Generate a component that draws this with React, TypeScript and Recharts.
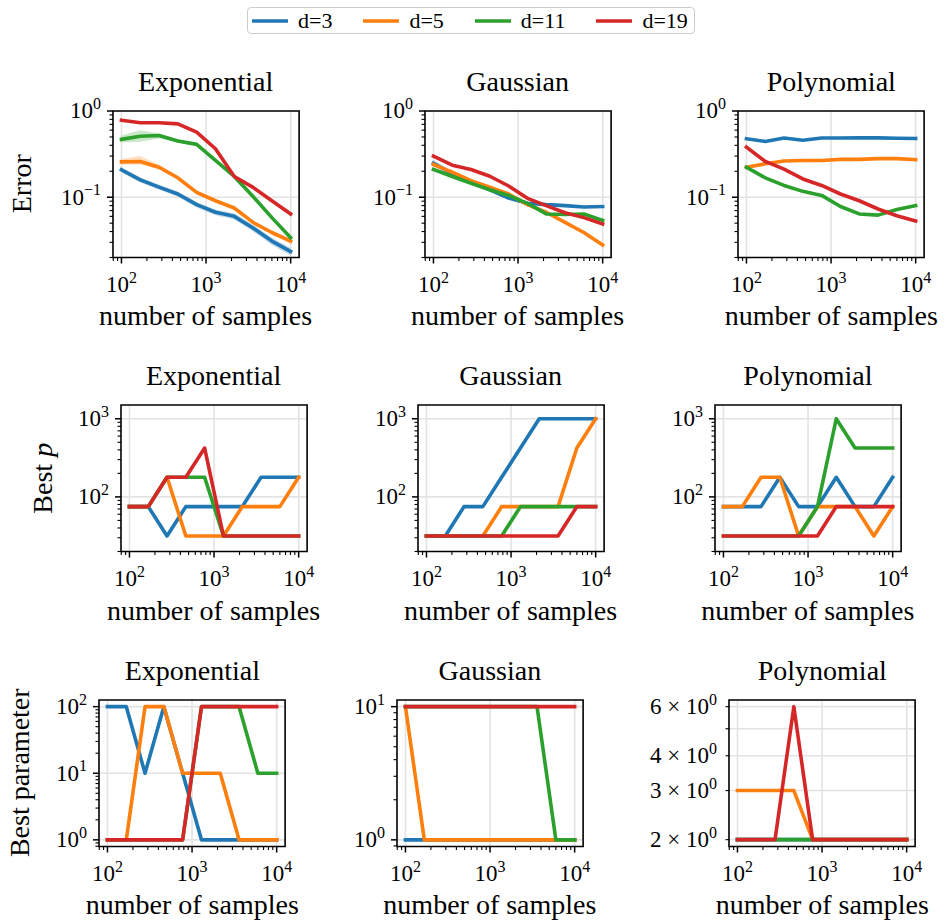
import React from 'react'
import {
  ComposedChart,
  Line,
  Area,
  XAxis,
  YAxis,
  CartesianGrid,
  ReferenceArea,
} from 'recharts'

// sample sizes (log-spaced 1e2 .. 1e4)
const samples = [100, 167, 278, 464, 774, 1292, 2154, 3594, 5995, 10000]
const dims = ['d=3', 'd=5', 'd=11', 'd=19']
const colors = ['#1f77b4', '#ff7f0e', '#2ca02c', '#d62728']
const kernels = ['Exponential', 'Gaussian', 'Polynomial']

// row 1: Error
const errExponential = [
  [0.208, 0.159, 0.131, 0.109, 0.082, 0.067, 0.06, 0.044, 0.031, 0.0235],
  [0.257, 0.26, 0.223, 0.168, 0.114, 0.091, 0.075, 0.051, 0.039, 0.031],
  [0.469, 0.51, 0.52, 0.448, 0.41, 0.267, 0.174, 0.102, 0.058, 0.034],
  [0.78, 0.73, 0.73, 0.71, 0.57, 0.365, 0.174, 0.13, 0.091, 0.064],
]
const errExponentialLo = [
  [0.194, 0.148, 0.122, 0.101, 0.076, 0.062, 0.055, 0.04, 0.028, 0.021],
  [0.24, 0.24, 0.21, 0.16, 0.109, 0.087, 0.072, 0.049, 0.037, 0.029],
  [0.43, 0.44, 0.48, 0.43, 0.4, 0.26, 0.168, 0.099, 0.056, 0.033],
]
const errExponentialHi = [
  [0.222, 0.17, 0.14, 0.116, 0.088, 0.072, 0.065, 0.048, 0.034, 0.026],
  [0.28, 0.3, 0.24, 0.176, 0.119, 0.095, 0.078, 0.053, 0.041, 0.033],
  [0.52, 0.6, 0.55, 0.47, 0.43, 0.275, 0.18, 0.105, 0.06, 0.035],
]
const errGaussian = [
  [0.248, 0.187, 0.149, 0.122, 0.098, 0.085, 0.082, 0.08, 0.077, 0.078],
  [0.24, 0.195, 0.156, 0.131, 0.109, 0.082, 0.067, 0.051, 0.039, 0.028],
  [0.21, 0.174, 0.145, 0.122, 0.105, 0.085, 0.064, 0.063, 0.064, 0.054],
  [0.3, 0.235, 0.21, 0.175, 0.135, 0.097, 0.08, 0.066, 0.058, 0.049],
]
const errGaussianLo = [[0.23, 0.175, 0.142, 0.117, 0.095, 0.083, 0.08, 0.078, 0.075, 0.076]]
const errGaussianHi = [[0.27, 0.2, 0.157, 0.127, 0.101, 0.087, 0.084, 0.082, 0.079, 0.08]]
const errPolynomial = [
  [0.477, 0.444, 0.486, 0.458, 0.486, 0.486, 0.49, 0.488, 0.484, 0.48],
  [0.223, 0.244, 0.263, 0.267, 0.267, 0.275, 0.275, 0.28, 0.28, 0.273],
  [0.223, 0.168, 0.137, 0.117, 0.105, 0.078, 0.064, 0.062, 0.072, 0.08],
  [0.381, 0.26, 0.212, 0.163, 0.137, 0.109, 0.091, 0.073, 0.061, 0.053],
]

// row 2: Best p
const bestPExponential = [
  [75, 75, 31.6, 75, 75, 75, 75, 178, 178, 178],
  [75, 75, 178, 31.6, 31.6, 31.6, 75, 75, 75, 178],
  [75, 75, 178, 178, 178, 31.6, 31.6, 31.6, 31.6, 31.6],
  [75, 75, 178, 178, 422, 31.6, 31.6, 31.6, 31.6, 31.6],
]
const bestPGaussian = [
  [31.6, 31.6, 75, 75, 178, 422, 1000, 1000, 1000, 1000],
  [31.6, 31.6, 31.6, 31.6, 75, 75, 75, 75, 422, 1000],
  [31.6, 31.6, 31.6, 31.6, 31.6, 75, 75, 75, 75, 75],
  [31.6, 31.6, 31.6, 31.6, 31.6, 31.6, 31.6, 31.6, 75, 75],
]
const bestPPolynomial = [
  [75, 75, 75, 178, 75, 75, 178, 75, 75, 178],
  [75, 75, 178, 178, 31.6, 75, 75, 75, 31.6, 75],
  [31.6, 31.6, 31.6, 31.6, 31.6, 75, 1000, 422, 422, 422],
  [31.6, 31.6, 31.6, 31.6, 31.6, 31.6, 75, 75, 75, 75],
]

// row 3: Best parameter
const paramExponential = [
  [100, 100, 10, 100, 10, 1, 1, 1, 1, 1],
  [1, 1, 100, 100, 10, 10, 10, 1, 1, 1],
  [1, 1, 1, 1, 1, 100, 100, 100, 10, 10],
  [1, 1, 1, 1, 1, 100, 100, 100, 100, 100],
]
const paramGaussian = [
  [1, 1, 1, 1, 1, 1, 1, 1, 1, 1],
  [10, 1, 1, 1, 1, 1, 1, 1, 1, 1],
  [10, 10, 10, 10, 10, 10, 10, 10, 1, 1],
  [10, 10, 10, 10, 10, 10, 10, 10, 10, 10],
]
const paramPolynomial = [
  [2, 2, 2, 2, 2, 2, 2, 2, 2, 2],
  [3, 3, 3, 3, 2, 2, 2, 2, 2, 2],
  [2, 2, 2, 2, 2, 2, 2, 2, 2, 2],
  [2, 2, 2, 6, 2, 2, 2, 2, 2, 2],
]

const FONT = '"Liberation Serif", "DejaVu Serif", "Noto Serif", serif'
const DEC = 84.6
const PLOT_W = 2.2 * DEC
const PLOT_H = 146.5
const PAD_L = 110
const PAD_R = 12
const PAD_T = 30
const PAD_B = 50
const rowTop = [110.5, 405, 699.5]

const xDomain = [Math.pow(10, 1.9), Math.pow(10, 4.1)]
const xMajor = [100, 1000, 10000]
const decadeTicks = (lo: number, hi: number) => {
  const out: number[] = []
  for (let e = -2; e <= 4; e++) for (let m = 1; m <= 9; m++) {
    const v = m * Math.pow(10, e)
    if (v >= lo * 0.999 && v <= hi * 1.001) out.push(Number(v.toPrecision(3)))
  }
  return out
}

const expOf = (v: number) => {
  const e = Math.round(Math.log10(v))
  return Math.abs(v - Math.pow(10, e)) < 1e-6 * v ? e : null
}
const expText = (e: number) => (e < 0 ? '\u2212' + -e : String(e))

const powLabel = (v: number) => {
  const e = expOf(v)
  if (e === null) return null
  return (
    <>
      10<tspan dy={-9.5} fontSize={16}>{expText(e)}</tspan>
    </>
  )
}
const mantissaLabel = (v: number) => {
  if (v === 5) return null
  return (
    <>
      {v} × 10<tspan dy={-9.5} fontSize={16}>0</tspan>
    </>
  )
}

function XTick(props: any) {
  const { x, y, payload } = props
  const lab = powLabel(payload.value)
  const len = lab ? 6 : 3.5
  return (
    <g>
      <line x1={x} x2={x} y1={y} y2={y + len} stroke="#000" strokeWidth={lab ? 1.5 : 1.1} />
      {lab && (
        <text x={x} y={y + 35} textAnchor="middle" fontSize={23} fontFamily={FONT} fill="#000">
          {lab}
        </text>
      )}
    </g>
  )
}

function YTick(props: any) {
  const { x, y, payload, fmt, major } = props
  const lab = fmt(payload.value)
  const isMajor = major(payload.value)
  const len = isMajor ? 6 : 3.5
  return (
    <g>
      <line x1={x} x2={x - len} y1={y} y2={y} stroke="#000" strokeWidth={isMajor ? 1.5 : 1.1} />
      {lab && (
        <text x={x - 12} y={y + 7.5} textAnchor="end" fontSize={23} fontFamily={FONT} fill="#000">
          {lab}
        </text>
      )}
    </g>
  )
}

interface PanelSpec {
  title: string
  row: number
  t2: number // pixel position of the 10^2 tick
  values: number[][]
  lo?: number[][]
  hi?: number[][]
  yDomain: number[]
  yTicks: number[]
  yGrid: number[]
  fmt: (v: number) => any
  major: (v: number) => boolean
}

const isPow = (v: number) => expOf(v) !== null

const row1Dom = [0.02, 1]
const row2Dom = [20, 1500]
const panels: PanelSpec[] = [
  { title: kernels[0], row: 0, t2: 121, values: errExponential, lo: errExponentialLo, hi: errExponentialHi, yDomain: row1Dom, yTicks: decadeTicks(0.02, 1), yGrid: [0.1, 1], fmt: powLabel, major: isPow },
  { title: kernels[1], row: 0, t2: 433, values: errGaussian, lo: errGaussianLo, hi: errGaussianHi, yDomain: row1Dom, yTicks: decadeTicks(0.02, 1), yGrid: [0.1, 1], fmt: powLabel, major: isPow },
  { title: kernels[2], row: 0, t2: 746.7, values: errPolynomial, yDomain: row1Dom, yTicks: decadeTicks(0.02, 1), yGrid: [0.1, 1], fmt: powLabel, major: isPow },
  { title: kernels[0], row: 1, t2: 129, values: bestPExponential, yDomain: row2Dom, yTicks: decadeTicks(20, 1500), yGrid: [100, 1000], fmt: powLabel, major: isPow },
  { title: kernels[1], row: 1, t2: 426, values: bestPGaussian, yDomain: row2Dom, yTicks: decadeTicks(20, 1500), yGrid: [100, 1000], fmt: powLabel, major: isPow },
  { title: kernels[2], row: 1, t2: 723.3, values: bestPPolynomial, yDomain: row2Dom, yTicks: decadeTicks(20, 1500), yGrid: [100, 1000], fmt: powLabel, major: isPow },
  { title: kernels[0], row: 2, t2: 107.7, values: paramExponential, yDomain: [Math.pow(10, -0.1), Math.pow(10, 2.1)], yTicks: decadeTicks(0.8, 126), yGrid: [1, 10, 100], fmt: powLabel, major: isPow },
  { title: kernels[1], row: 2, t2: 405.3, values: paramGaussian, yDomain: [Math.pow(10, -0.05), Math.pow(10, 1.05)], yTicks: decadeTicks(0.9, 11.2), yGrid: [1, 10], fmt: powLabel, major: isPow },
  { title: kernels[2], row: 2, t2: 737.7, values: paramPolynomial, yDomain: [1.89, 6.34], yTicks: [2, 3, 4, 5, 6], yGrid: [], fmt: mantissaLabel, major: () => false },
]

function Panel({ p }: { p: PanelSpec }) {
  const left = p.t2 - 0.1 * DEC
  const top = rowTop[p.row]
  const data = samples.map((n, i) => {
    const r: any = { n }
    p.values.forEach((s, k) => (r['s' + k] = s[i]))
    if (p.lo && p.hi) p.lo.forEach((s, k) => (r['b' + k] = [s[i], p.hi![k][i]]))
    return r
  })
  return (
    <div style={{ position: 'absolute', left: left - PAD_L, top: top - PAD_T }}>
      <ComposedChart
        width={PAD_L + PLOT_W + PAD_R}
        height={PAD_T + PLOT_H + PAD_B}
        data={data}
        margin={{ top: PAD_T, right: PAD_R, bottom: 0, left: 0 }}
      >
        <CartesianGrid horizontalValues={p.yGrid} verticalValues={xMajor} stroke="#e3e3e3" strokeWidth={1.6} />
        <XAxis
          dataKey="n"
          type="number"
          scale="log"
          domain={xDomain}
          allowDataOverflow
          ticks={decadeTicks(xDomain[0], xDomain[1])}
          interval={0}
          height={PAD_B}
          tickSize={0}
          tickMargin={0}
          tickLine={false}
          axisLine={false}
          tick={(t: any) => <XTick {...t} />}
        />
        <YAxis
          type="number"
          scale="log"
          domain={p.yDomain}
          allowDataOverflow
          ticks={p.yTicks}
          interval={0}
          width={PAD_L}
          tickSize={0}
          tickMargin={0}
          tickLine={false}
          axisLine={false}
          tick={(t: any) => <YTick {...t} fmt={p.fmt} major={p.major} />}
        />
        {p.lo &&
          p.lo.map((_, k) => (
            <Area
              key={'b' + k}
              dataKey={'b' + k}
              stroke="none"
              fill={colors[k]}
              fillOpacity={0.25}
              isAnimationActive={false}
              activeDot={false}
            />
          ))}
        {p.values.map((_, k) => (
          <Line
            key={'s' + k}
            dataKey={'s' + k}
            name={dims[k]}
            stroke={colors[k]}
            strokeWidth={3.6}
            strokeLinecap="square"
            strokeLinejoin="round"
            dot={false}
            activeDot={false}
            isAnimationActive={false}
          />
        ))}
        <ReferenceArea
          x1={xDomain[0]}
          x2={xDomain[1]}
          y1={p.yDomain[0]}
          y2={p.yDomain[1]}
          fill="none"
          fillOpacity={0}
          stroke="#000"
          strokeWidth={1.6}
          ifOverflow="visible"
        />
      </ComposedChart>
    </div>
  )
}

const yLabels = ['Error', 'Best p', 'Best parameter']
const yLabelX = [31, 52, 28.5]

export default function App() {
  return (
    <div style={{ position: 'absolute', left: 0, top: 0, width: 945, height: 924, background: '#fff' }}>
      {panels.map((p, i) => (
        <Panel key={i} p={p} />
      ))}
      <svg width={945} height={924} style={{ position: 'absolute', left: 0, top: 0, pointerEvents: 'none' }}>
        {panels.map((p, i) => {
          const cx = p.t2 - 0.1 * DEC + PLOT_W / 2
          const top = rowTop[p.row]
          return (
            <g key={i} fontFamily={FONT} fontSize={28} fill="#000">
              <text x={cx} y={top - 20} textAnchor="middle">
                {p.title}
              </text>
              <text x={cx} y={top + PLOT_H + 68} textAnchor="middle">
                number of samples
              </text>
            </g>
          )
        })}
        {yLabels.map((l, r) => {
          const cy = rowTop[r] + PLOT_H / 2
          return (
            <text
              key={l}
              x={yLabelX[r]}
              y={cy}
              transform={`rotate(-90 ${yLabelX[r]} ${cy})`}
              textAnchor="middle"
              fontFamily={FONT}
              fontSize={28}
              fill="#000"
            >
              {r === 1 ? (
                <>
                  Best <tspan fontStyle="italic">p</tspan>
                </>
              ) : (
                l
              )}
            </text>
          )
        })}
      </svg>
      <div
        style={{
          position: 'absolute',
          left: 247,
          top: 7,
          height: 27,
          boxSizing: 'border-box',
          border: '1.5px solid #cccccc',
          borderRadius: 4,
          display: 'flex',
          alignItems: 'center',
          gap: 31,
          padding: '0 6px 0 4px',
          background: '#fff',
          fontFamily: FONT,
          fontSize: 22,
        }}
      >
        {dims.map((d, k) => (
          <div key={d} style={{ display: 'flex', alignItems: 'center' }}>
            <svg width={36} height={6}>
              <line x1={0} x2={36} y1={3} y2={3} stroke={colors[k]} strokeWidth={3.6} />
            </svg>
            <span style={{ marginLeft: 10 }}>{d}</span>
          </div>
        ))}
      </div>
    </div>
  )
}
